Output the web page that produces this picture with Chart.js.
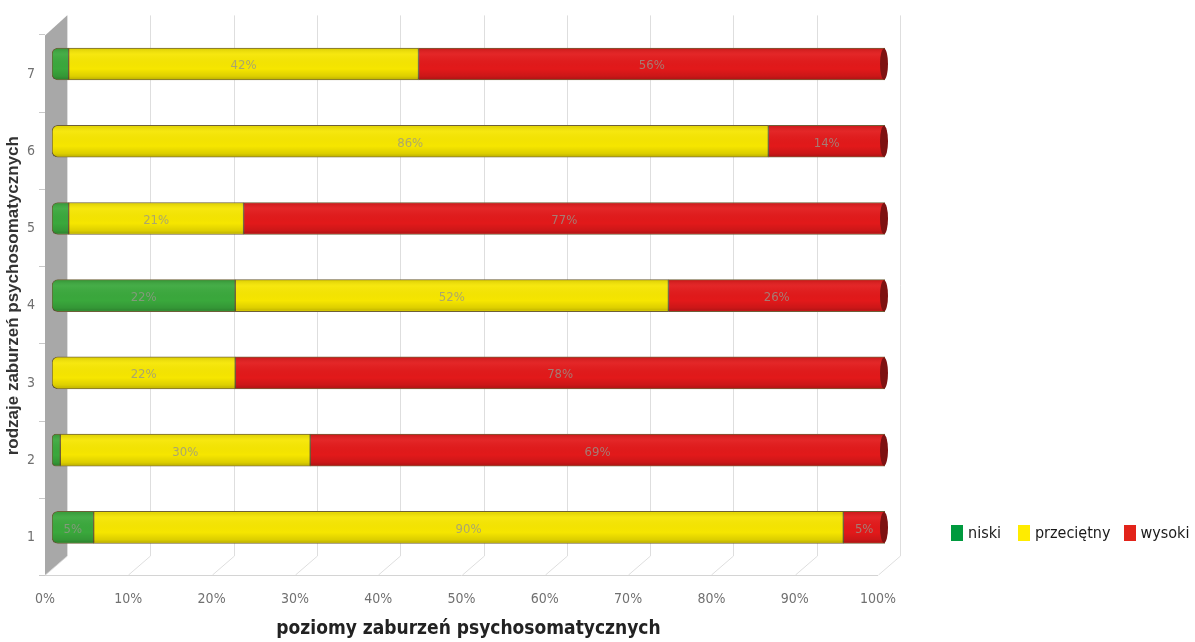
<!DOCTYPE html>
<html>
<head>
<meta charset="utf-8">
<script src="https://cdn.jsdelivr.net/npm/chart.js@4.4.1/dist/chart.umd.min.js"></script>
<style>
  html, body { margin: 0; padding: 0; background: #fff; }
  #wrap { position: relative; width: 1195px; height: 642px; }
  #legend {
    position: absolute; left: 951px; top: 523px;
    display: flex; align-items: center; white-space: nowrap;
    font: 16px "Liberation Sans Narrow", "DejaVu Sans Condensed", sans-serif;
    color: #1a1a1a;
  }
  #legend span.box { display: inline-block; width: 12px; height: 16px; margin-right: 5px; }
  #legend span.item { display: inline-flex; align-items: center; }
</style>
</head>
<body>
<div id="wrap">
  <canvas id="chart" width="1195" height="642"></canvas>
  <div id="legend"></div>
</div>
<script>
// Poziomy zaburzeń psychosomatycznych w 7 rodzajach (stacked 100% bars).
const CATEGORIES = ["1", "2", "3", "4", "5", "6", "7"];
const NISKI = [5, 1, 0, 22, 2, 0, 2];
const PRZECIETNY = [90, 30, 22, 52, 21, 86, 42];
const WYSOKI = [5, 69, 78, 26, 77, 14, 56];
const SERIES_NAMES = ["niski", "przeciętny", "wysoki"];
const X_TICKS = [0, 10, 20, 30, 40, 50, 60, 70, 80, 90, 100];

const NARROW = "'Liberation Sans Narrow', 'DejaVu Sans Condensed', sans-serif";
const COLORS = ["#3aa83c", "#f6e600", "#e2191a"];
const LEGEND_COLORS = ["#009a3e", "#ffec00", "#e2231a"];
const LEGEND_GAPS = [17, 13, 0];

// legend built from the series names
const legendEl = document.getElementById("legend");
SERIES_NAMES.forEach((name, i) => {
  const item = document.createElement("span");
  item.className = "item";
  item.style.marginRight = LEGEND_GAPS[i] + "px";
  const box = document.createElement("span");
  box.className = "box";
  box.style.background = LEGEND_COLORS[i];
  item.appendChild(box);
  item.appendChild(document.createTextNode(name));
  legendEl.appendChild(item);
});

// rounded left end on the first non-empty segment of each row
function radiusFor(ctx) {
  const di = ctx.datasetIndex, j = ctx.dataIndex;
  const all = ctx.chart.data.datasets;
  let first = -1;
  for (let k = 0; k < all.length; k++) if (all[k].data[j] > 0) { first = k; break; }
  return di === first ? { topLeft: 6, bottomLeft: 6, topRight: 0, bottomRight: 0 } : 0;
}

// 3D-ish backdrop: grey side wall, back grid, floor
const backdrop = {
  id: "backdrop",
  beforeDatasetsDraw(chart) {
    const { ctx, chartArea: a, scales } = chart;
    const xs = scales.x;
    const depth = 22, front = -7;
    const backTop = a.top - 10, backBot = a.bottom - 10, floorY = a.bottom + 9;
    ctx.save();
    // back grid + floor lines
    ctx.strokeStyle = "#dedede";
    ctx.lineWidth = 1;
    X_TICKS.forEach((v) => {
      const fx = Math.round(xs.getPixelForValue(v) + front) + 0.5;
      const bx = fx + depth;
      ctx.beginPath();
      ctx.moveTo(bx, backTop);
      ctx.lineTo(bx, backBot);
      ctx.lineTo(fx, floorY);
      ctx.stroke();
    });
    ctx.strokeStyle = "#d4d4d4";
    ctx.beginPath();
    ctx.moveTo(a.left + front, floorY + 0.5);
    ctx.lineTo(xs.getPixelForValue(100) + front, floorY + 0.5);
    ctx.stroke();
    // side wall
    const wl = a.left + front, wr = wl + depth;
    ctx.fillStyle = "#a8a8a8";
    ctx.beginPath();
    ctx.moveTo(wl, a.top + 10);
    ctx.lineTo(wr, backTop);
    ctx.lineTo(wr, backBot);
    ctx.lineTo(wl, floorY);
    ctx.closePath();
    ctx.fill();
    // small category marks left of the wall
    const ys = scales.y;
    ctx.strokeStyle = "#c8c8c8";
    for (let i = 0; i <= CATEGORIES.length; i++) {
      const y = Math.round(ys.getPixelForValue(i - 0.5) + 9) + 0.5;
      ctx.beginPath();
      ctx.moveTo(wl - 6, y);
      ctx.lineTo(wl, y);
      ctx.stroke();
    }
    ctx.restore();
  },
};

// shading, end caps and value labels
const barDecor = {
  id: "barDecor",
  afterDatasetsDraw(chart) {
    const { ctx } = chart;
    const n = chart.data.datasets.length;
    ctx.save();
    // cylinder shading over each row
    const firstMeta = chart.getDatasetMeta(0);
    const lastMeta = chart.getDatasetMeta(n - 1);
    firstMeta.data.forEach((bar, j) => {
      const { base, y, height } = bar.getProps(["base", "y", "height"], true);
      const end = lastMeta.data[j].getProps(["x"], true).x;
      const top = y - height / 2;
      const g = ctx.createLinearGradient(0, top, 0, top + height);
      g.addColorStop(0, "rgba(0,0,0,0.12)");
      g.addColorStop(0.2, "rgba(255,255,255,0.06)");
      g.addColorStop(0.65, "rgba(0,0,0,0)");
      g.addColorStop(0.88, "rgba(0,0,0,0.1)");
      g.addColorStop(1, "rgba(0,0,0,0.25)");
      ctx.fillStyle = g;
      ctx.fillRect(base + 1, top + 1, end - base - 2, height - 2);
    });
    // dark right cap
    lastMeta.data.forEach((bar, j) => {
      if (!(chart.data.datasets[n - 1].data[j] > 0)) return;
      const { x, y, height } = bar.getProps(["x", "y", "height"], true);
      ctx.fillStyle = "#7e1212";
      ctx.beginPath();
      ctx.ellipse(x - 1, y, 4, height / 2 - 0.5, 0, 0, Math.PI * 2);
      ctx.fill();
    });
    // value labels
    ctx.font = "13px " + NARROW;
    ctx.textAlign = "center";
    ctx.textBaseline = "middle";
    ctx.fillStyle = "rgba(150,150,140,0.78)";
    chart.data.datasets.forEach((ds, i) => {
      chart.getDatasetMeta(i).data.forEach((bar, j) => {
        const v = ds.data[j];
        if (v < 3) return;
        const { x, base, y } = bar.getProps(["x", "base", "y"], true);
        ctx.fillText(v + "%", (x + base) / 2, y + 2);
      });
    });
    ctx.restore();
  },
};

const seriesData = [NISKI, PRZECIETNY, WYSOKI];

new Chart(document.getElementById("chart"), {
  type: "bar",
  data: {
    labels: CATEGORIES,
    datasets: SERIES_NAMES.map((name, i) => ({
      label: name,
      data: seriesData[i],
      backgroundColor: COLORS[i],
      borderColor: "#6d5f38",
      borderWidth: 1,
      borderSkipped: false,
      borderRadius: radiusFor,
      barThickness: 32,
    })),
  },
  options: {
    indexAxis: "y",
    responsive: false,
    animation: false,
    layout: { padding: { top: 23, right: 310, left: 0, bottom: 0 } },
    plugins: {
      legend: { display: false },
      tooltip: { enabled: false },
    },
    scales: {
      x: {
        stacked: true,
        min: 0,
        max: 100,
        afterFit: (s) => { s.height = 76; },
        afterBuildTicks: (s) => { s.ticks = X_TICKS.map((v) => ({ value: v })); },
        grid: { display: false, drawTicks: false },
        border: { display: false },
        ticks: {
          callback: (v) => v + "%",
          color: "#707070",
          font: { family: NARROW, size: 14 },
          padding: 25,
          labelOffset: -7,
          maxRotation: 0,
        },
        title: {
          display: true,
          text: "poziomy zaburzeń psychosomatycznych",
          color: "#222",
          font: { family: NARROW, size: 19, weight: "bold" },
          padding: { top: 0, bottom: 2 },
        },
      },
      y: {
        stacked: true,
        reverse: true,
        afterFit: (s) => { s.width = 52; },
        grid: { display: false, drawTicks: false },
        border: { display: false },
        ticks: {
          color: "#707070",
          font: { family: NARROW, size: 14 },
          padding: 17,
          labelOffset: 10,
        },
        title: {
          display: true,
          text: "rodzaje zaburzeń psychosomatycznych",
          color: "#333",
          font: { family: "'Liberation Sans', Arial, sans-serif", size: 17, weight: "bold" },
          padding: { top: 3, bottom: 0 },
        },
      },
    },
  },
  plugins: [backdrop, barDecor],
});
</script>
</body>
</html>
